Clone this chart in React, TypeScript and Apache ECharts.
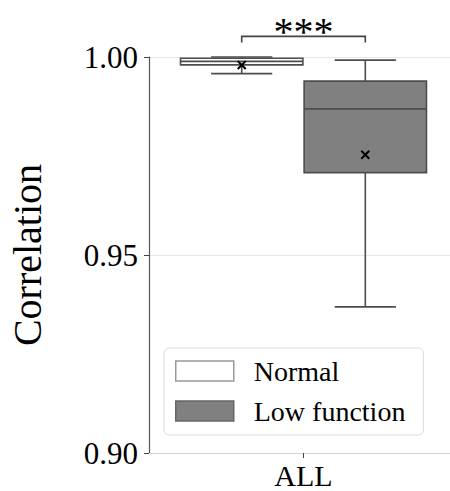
import React, { useEffect, useRef } from 'react';
import * as echarts from 'echarts';

const categories = ['ALL'];
const groupNames = ['Normal', 'Low function'];
// [min, Q1, median, Q3, max]
const normalBox = [0.9958, 0.998, 0.9989, 0.9997, 1.0];
const lowBox = [0.9369, 0.9708, 0.9869, 0.9939, 0.9992];
const normalMean = [0.998];
const lowMean = [0.9753];
const yTicks = [0.9, 0.95, 1.0];
const sigLabel = '***';
const sigLevel = 1.0052;

const FONT = '"Liberation Serif", "DejaVu Serif", serif';
const LINE = '#4d4d4d';
const FILLS = ['#ffffff', '#808080'];
const OFFSETS = [-0.2, 0.2];

function makeRender(offsetFrac: number, fill: string) {
  return (params: any, api: any) => {
    const cat = api.value(0);
    const bw = api.size([1, 0])[0];
    const cx = api.coord([cat, 0])[0] + offsetFrac * bw;
    const boxW = bw * 0.4 * 0.99;
    const y = (v: number) => api.coord([cat, v])[1];
    const yMin = y(api.value(1));
    const yQ1 = y(api.value(2));
    const yMed = y(api.value(3));
    const yQ3 = y(api.value(4));
    const yMax = y(api.value(5));
    const yMean = y(api.value(6));
    const capW = boxW / 2;
    const ls = { stroke: LINE, lineWidth: 1.6, fill: null };
    const m = 4;
    return {
      type: 'group',
      children: [
        { type: 'line', shape: { x1: cx, y1: yQ3, x2: cx, y2: yMax }, style: ls },
        { type: 'line', shape: { x1: cx, y1: yQ1, x2: cx, y2: yMin }, style: ls },
        { type: 'line', shape: { x1: cx - capW / 2, y1: yMax, x2: cx + capW / 2, y2: yMax }, style: ls },
        { type: 'line', shape: { x1: cx - capW / 2, y1: yMin, x2: cx + capW / 2, y2: yMin }, style: ls },
        {
          type: 'rect',
          shape: { x: cx - boxW / 2, y: yQ3, width: boxW, height: yQ1 - yQ3 },
          style: { fill, stroke: LINE, lineWidth: 1.6 },
        },
        { type: 'line', shape: { x1: cx - boxW / 2, y1: yMed, x2: cx + boxW / 2, y2: yMed }, style: ls },
        { type: 'line', shape: { x1: cx - m, y1: yMean - m, x2: cx + m, y2: yMean + m }, style: { stroke: '#000', lineWidth: 2 } },
        { type: 'line', shape: { x1: cx - m, y1: yMean + m, x2: cx + m, y2: yMean - m }, style: { stroke: '#000', lineWidth: 2 } },
      ],
    };
  };
}

export default function App() {
  const ref = useRef<HTMLDivElement>(null);
  useEffect(() => {
    if (!ref.current) return;
    const chart = echarts.init(ref.current, null, { renderer: 'svg' });
    const boxes = [normalBox, lowBox];
    const means = [normalMean, lowMean];
    const option: any = {
      animation: false,
      backgroundColor: '#ffffff',
      grid: { left: 149, top: 57, width: 309, height: 396, outerBoundsMode: 'none', containLabel: false },
      legend: {
        orient: 'vertical',
        left: 164,
        top: 348,
        padding: [9, 18, 10, 11],
        itemWidth: 58,
        itemHeight: 20,
        itemGap: 12,
        borderColor: '#dcdcdc',
        borderWidth: 1,
        borderRadius: 5,
        backgroundColor: '#ffffff',
        icon: 'rect',
        textStyle: { fontFamily: FONT, fontSize: 28, color: '#000', padding: [0, 0, 0, 15] },
        data: groupNames.map((n, i) => ({
          name: n,
          itemStyle: { color: FILLS[i], borderColor: i === 0 ? '#999999' : '#666666', borderWidth: 1.5 },
        })),
      },
      xAxis: {
        type: 'category',
        data: categories,
        axisLine: { show: true, lineStyle: { color: '#d4d4d4', width: 1 } },
        axisTick: { show: true, alignWithLabel: true, length: 5, lineStyle: { color: '#444' } },
        axisLabel: { fontFamily: FONT, fontSize: 30, color: '#000', margin: 7, lineHeight: 30 },
        splitLine: { show: false },
      },
      yAxis: {
        type: 'value',
        min: yTicks[0],
        max: yTicks[yTicks.length - 1],
        interval: 0.05,
        name: 'Correlation',
        nameLocation: 'middle',
        nameRotate: 90,
        nameGap: 102,
        nameTextStyle: { fontFamily: FONT, fontSize: 40, color: '#000' },
        axisLine: { show: true, lineStyle: { color: '#555', width: 1.2 } },
        axisTick: { show: true, length: 5, lineStyle: { color: '#444' } },
        axisLabel: { fontFamily: FONT, fontSize: 31, color: '#000', margin: 11, formatter: (v: number) => v.toFixed(2) },
        splitLine: { show: true, lineStyle: { color: '#e6e6e6', width: 1 } },
      },
      series: groupNames.map((n, i) => ({
        type: 'custom',
        name: n,
        renderItem: makeRender(OFFSETS[i], FILLS[i]),
        itemStyle: { color: FILLS[i] },
        encode: { x: 0, y: [1, 2, 3, 4, 5, 6] },
        data: categories.map((_, ci) => [ci, ...boxes[i], means[i][ci]]),
        z: 3,
      })),
    };
    chart.setOption(option);

    const c0 = chart.convertToPixel({ gridIndex: 0 }, [0, 1.0]) as number[];
    const c1 = chart.convertToPixel({ gridIndex: 0 }, [0, 0.9]) as number[];
    const bw = (chart.getModel() as any).getComponent('xAxis', 0).axis.getBandWidth();
    const xa = c0[0] + OFFSETS[0] * bw;
    const xb = c0[0] + OFFSETS[1] * bw;
    const pxPerUnit = (c1[1] - c0[1]) / 0.1;
    const yTop = c0[1] - (sigLevel - 1.0) * pxPerUnit;
    chart.setOption({
      graphic: [
        {
          type: 'polyline',
          shape: { points: [[xa, yTop + 6], [xa, yTop], [xb, yTop], [xb, yTop + 6]] },
          style: { stroke: '#444', lineWidth: 1.6, fill: null },
          z: 10,
        },
        {
          type: 'text',
          x: (xa + xb) / 2,
          y: yTop + 15,
          style: { text: sigLabel, fontFamily: FONT, fontSize: 40, fill: '#000', align: 'center', verticalAlign: 'bottom' },
          z: 10,
        },
      ],
    });
    return () => chart.dispose();
  }, []);
  return <div ref={ref} style={{ position: 'absolute', left: 0, top: 0, width: 450, height: 491 }} />;
}
